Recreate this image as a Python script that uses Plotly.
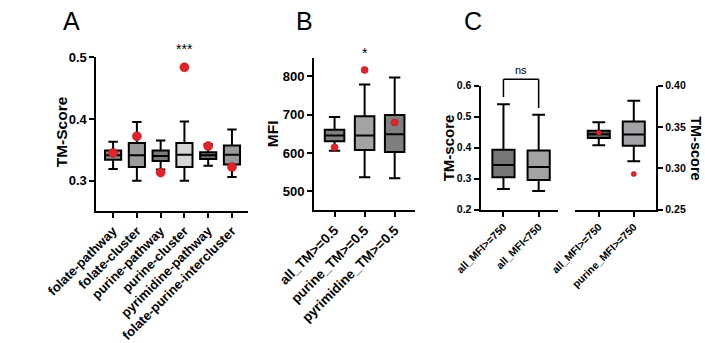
import plotly.graph_objects as go

W, H = 705, 343
def fx(px): return px / W
def fy(py): return 1 - py / H

# ---------------- data ----------------
a_cats = ["folate-pathway", "folate-cluster", "purine-pathway", "purine-cluster",
          "pyrimidine-pathway", "folate-purine-intercluster"]
a_low = [0.319, 0.300, 0.318, 0.300, 0.324, 0.306]
a_q1 = [0.334, 0.322, 0.332, 0.322, 0.335, 0.326]
a_med = [0.341, 0.341, 0.340, 0.342, 0.341, 0.342]
a_q3 = [0.349, 0.361, 0.349, 0.361, 0.346, 0.357]
a_high = [0.363, 0.395, 0.365, 0.396, 0.359, 0.383]
a_dot = [0.345, 0.372, 0.313, 0.484, 0.356, 0.322]
a_colors = ["#8a8a8a", "#9a9a9d", "#7b7b7b", "#d6d6d6", "#6c6c6c", "#9a9a9d"]
a_range = [0.2502, 0.5]

b_cats = ["all_TM>=0.5", "purine_TM>=0.5", "pyrimidine_TM>=0.5"]
b_low = [606, 537, 534]
b_q1 = [631, 608, 603]
b_med = [646, 646, 649]
b_q3 = [661, 696, 699]
b_high = [694, 779, 797]
b_dot = [615, 817, 680]
b_colors = ["#808080", "#a3a3a6", "#7f7f7f"]
b_range = [451, 849]

c1_cats = ["all_MFI>=750", "all_MFI<750"]
c1_low = [0.267, 0.260]
c1_q1 = [0.305, 0.296]
c1_med = [0.344, 0.338]
c1_q3 = [0.393, 0.391]
c1_high = [0.540, 0.506]
c1_colors = ["#767676", "#a3a3a6"]
c1_range = [0.2, 0.6]
c1_bracket_top = 0.621
c1_bracket_legs = [0.563, 0.528]

c2_cats = ["all_MFI>=750", "purine_MFI>=750"]
c2_low = [0.328, 0.3085]
c2_q1 = [0.3368, 0.3273]
c2_med = [0.3413, 0.341]
c2_q3 = [0.3455, 0.3568]
c2_high = [0.3557, 0.3818]
c2_dot = [0.3432, 0.2932]
c2_colors = ["#5e5e5e", "#a3a3a6"]
c2_range = [0.25, 0.40]

RED = "#e2232a"
FONT = "Liberation Sans"

fig = go.Figure()

def add_boxes(cats, low, q1, med, q3, high, colors, xa, ya, width):
    for i, c in enumerate(cats):
        fig.add_trace(go.Box(
            x=[c], lowerfence=[low[i]], q1=[q1[i]], median=[med[i]],
            q3=[q3[i]], upperfence=[high[i]],
            fillcolor=colors[i], line=dict(color="black", width=2),
            width=width, whiskerwidth=0.58, boxpoints=False,
            xaxis=xa, yaxis=ya, showlegend=False, hoverinfo="skip"))

def add_dots(cats, vals, xa, ya, size):
    fig.add_trace(go.Scatter(
        x=cats, y=vals, mode="markers", xaxis=xa, yaxis=ya,
        marker=dict(color=RED, size=size, line=dict(color="#b01a1f", width=0.6)),
        showlegend=False, cliponaxis=False, hoverinfo="skip"))

add_boxes(a_cats, a_low, a_q1, a_med, a_q3, a_high, a_colors, "x", "y", 0.68)
add_dots(a_cats, a_dot, "x", "y", 9)
add_boxes(b_cats, b_low, b_q1, b_med, b_q3, b_high, b_colors, "x2", "y2", 0.65)
add_dots(b_cats, b_dot, "x2", "y2", 7)
add_boxes(c1_cats, c1_low, c1_q1, c1_med, c1_q3, c1_high, c1_colors, "x3", "y3", 0.63)
add_boxes(c2_cats, c2_low, c2_q1, c2_med, c2_q3, c2_high, c2_colors, "x4", "y4", 0.63)
add_dots(c2_cats, c2_dot, "x4", "y4", 5)

ax_common = dict(showline=True, linewidth=2, linecolor="black", showgrid=False,
                 zeroline=False, ticks="outside", ticklen=5, tickwidth=2,
                 tickcolor="black", fixedrange=True)

def b(s):
    return "<b>" + s + "</b>"

def xaxis(dom, rng, cats, size, anchor):
    return dict(ax_common, domain=dom, range=rng, type="category",
                categoryorder="array", categoryarray=cats, tickangle=-45,
                tickvals=cats, ticktext=[b(c.replace("<", "&lt;")) for c in cats],
                anchor=anchor,
                tickfont=dict(family=FONT, size=size, color="black", weight="bold"))

def yaxis(dom, rng, tickvals, ticktext, size, anchor, side="left"):
    return dict(ax_common, domain=dom, range=rng, tickvals=tickvals,
                ticktext=[b(t) for t in ticktext], anchor=anchor, side=side,
                tickfont=dict(family=FONT, size=size, color="black", weight="bold"))

fig.update_layout(
    width=W, height=H, margin=dict(l=0, r=0, t=0, b=0),
    paper_bgcolor="white", plot_bgcolor="white",
    xaxis=xaxis([fx(48), fx(212)], [-0.70, 5.69], a_cats, 13, "y"),
    yaxis=yaxis([fy(219), fy(54)], a_range, [0.3, 0.4, 0.5],
                ["0.3", "0.4", "0.5"], 13, "x"),
    xaxis2=xaxis([fx(283), fx(391.7)], [-0.68, 2.67], b_cats, 13.5, "y2"),
    yaxis2=yaxis([fy(217.7), fy(54.3)], b_range, [500, 600, 700, 800],
                 ["500", "600", "700", "800"], 13, "x2"),
    xaxis3=xaxis([fx(462.7), fx(546.7)], [-0.65, 1.56], c1_cats, 10.5, "y3"),
    yaxis3=yaxis([fy(217.3), fy(84.3)], c1_range, [0.2, 0.3, 0.4, 0.5, 0.6],
                 ["0.2", "0.3", "0.4", "0.5", "0.6"], 10.5, "x3"),
    xaxis4=xaxis([fx(565), fx(652.3)], [-0.67, 1.64], c2_cats, 10.5, "y4"),
    yaxis4=yaxis([fy(217.3), fy(84.3)], c2_range, [0.25, 0.30, 0.35, 0.40],
                 ["0.25", "0.30", "0.35", "0.40"], 10.5, "x4", side="right"),
)

# significance bracket in panel C (left): y expressed in y3-domain fraction
def dom_frac(v, rng):
    return (v - rng[0]) / (rng[1] - rng[0])

top = dom_frac(c1_bracket_top, c1_range)
for i, leg in enumerate(c1_bracket_legs):
    fig.add_shape(type="line", xref="x3", yref="y3 domain",
                  x0=c1_cats[i], x1=c1_cats[i], y0=dom_frac(leg, c1_range), y1=top,
                  line=dict(color="black", width=1.5))
fig.add_shape(type="line", xref="x3", yref="y3 domain",
              x0=c1_cats[0], x1=c1_cats[1], y0=top, y1=top,
              line=dict(color="black", width=1.5))

ann = []
def txt(x, y, t, size, bold=True, angle=0, xref="paper", yref="paper", yanchor="middle"):
    ann.append(dict(x=x, y=y, text=b(t) if bold else t, xref=xref, yref=yref,
                    showarrow=False, textangle=angle, xanchor="center", yanchor=yanchor,
                    font=dict(family=FONT, size=size, color="black")))

# panel letters
txt(fx(21), fy(15), "A", 25, bold=False)
txt(fx(273), fy(15), "B", 25, bold=False)
txt(fx(455), fy(15), "C", 25, bold=False)
# axis titles
txt(fx(10), fy(134), "TM-Score", 15.5, angle=-90)
txt(fx(239), fy(136), "MFI", 15.5, angle=-90)
txt(fx(428), fy(151), "TM-score", 15, angle=-90)
txt(fx(695), fy(151), "TM-score", 14.5, angle=90)
# significance marks
txt(a_cats[3], 0.497, "***", 14, bold=False, xref="x", yref="y", yanchor="bottom")
txt(b_cats[1], 835, "*", 14, bold=False, xref="x2", yref="y2", yanchor="bottom")
ann.append(dict(x=0.5, y=dom_frac(c1_bracket_top, c1_range), text="ns", xref="x3",
                yref="y3 domain", showarrow=False, xanchor="center", yanchor="bottom",
                yshift=1, font=dict(family=FONT, size=11, color="black")))
fig.update_layout(annotations=ann)

fig.write_html("out.html")
